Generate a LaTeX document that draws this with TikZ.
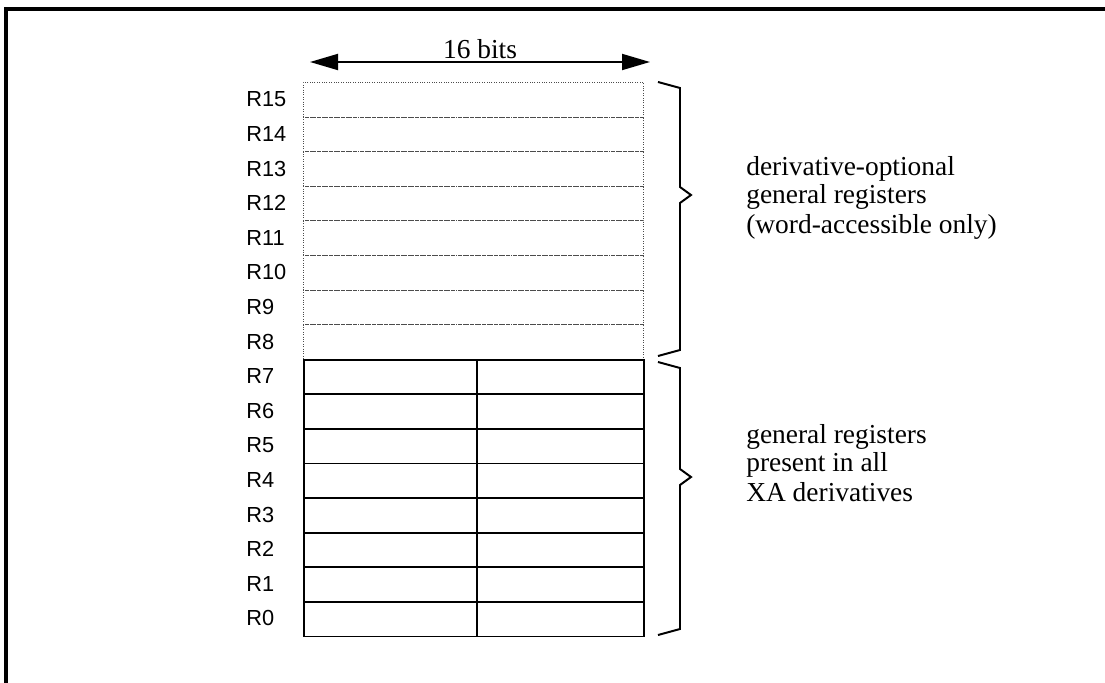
\documentclass[tikz,border=0pt]{standalone}
\usepackage{fontspec}
\setmainfont{Liberation Serif}
\newfontfamily\regfont{Liberation Sans}
\usetikzlibrary{arrows.meta}

\begin{document}
\begin{tikzpicture}[
  x=0.025cm, y=-0.025cm,
  font=\fontsize{19.5}{24}\selectfont,
  optrow/.style={draw=black!70, densely dotted, line width=0.7pt, anchor=north west,
                 minimum width=8.5cm, minimum height=0.865cm, inner sep=0pt},
  half/.style={draw=black, line width=1.3pt, anchor=north west,
               minimum height=0.865cm, inner sep=0pt},
  reg/.style={font=\regfont\fontsize{15.5}{18}\selectfont, anchor=west, inner sep=0pt},
  note/.style={anchor=base west, inner sep=0pt, text depth=0pt},
  brace/.style={draw=black, line width=1.4pt, line join=miter},
  arr/.style={{Triangle[length=0.7cm,width=0.4cm]}-{Triangle[length=0.7cm,width=0.4cm]},
              draw=black, line width=1.3pt}
]
\useasboundingbox (0,0) rectangle (1105,683);
\draw[line width=2.4pt] (6,683) -- (6,9) -- (1105,9);

% optional registers R15..R8
\foreach \i [count=\k from 0] in {15,...,8} {
  \node[optrow] (r\i) at (303,{82+34.6*\k}) {};
  \node[reg] (l\i) at (246,{99.3+34.6*\k}) {R\i};
}
% byte-split registers R7..R0
\foreach \i [count=\k from 8] in {7,...,0} {
  \node[half, minimum width=4.325cm] (lo\i) at (303,{82+34.6*\k}) {};
  \node[half, minimum width=4.175cm] (hi\i) at (476,{82+34.6*\k}) {};
  \node[reg] (l\i) at (246,{99.3+34.6*\k}) {R\i};
}

\coordinate (wl) at (310,62);
\coordinate (wr) at (650,62);
\draw[arr] (wl) -- (wr) node[midway, above, inner sep=1.5pt, font=\fontsize{19.5}{22}\selectfont] (bits) {16 bits};

\draw[brace] (658,82) -- (680,88) -- (680,187) -- (691,195) -- (680,203) -- (680,350) -- (658,356);
\draw[brace] (658,362) -- (680,368) -- (680,469) -- (691,477) -- (680,485) -- (680,629) -- (658,635);

\node[note] (o1) at (746,175) {derivative-optional};
\node[note] (o2) at (746,203) {general registers};
\node[note] (o3) at (746,233) {(word-accessible only)};
\node[note] (g1) at (746,443) {general registers};
\node[note] (g2) at (746,471) {present in all};
\node[note] (g3) at (746,501) {XA derivatives};
\end{tikzpicture}
\end{document}
